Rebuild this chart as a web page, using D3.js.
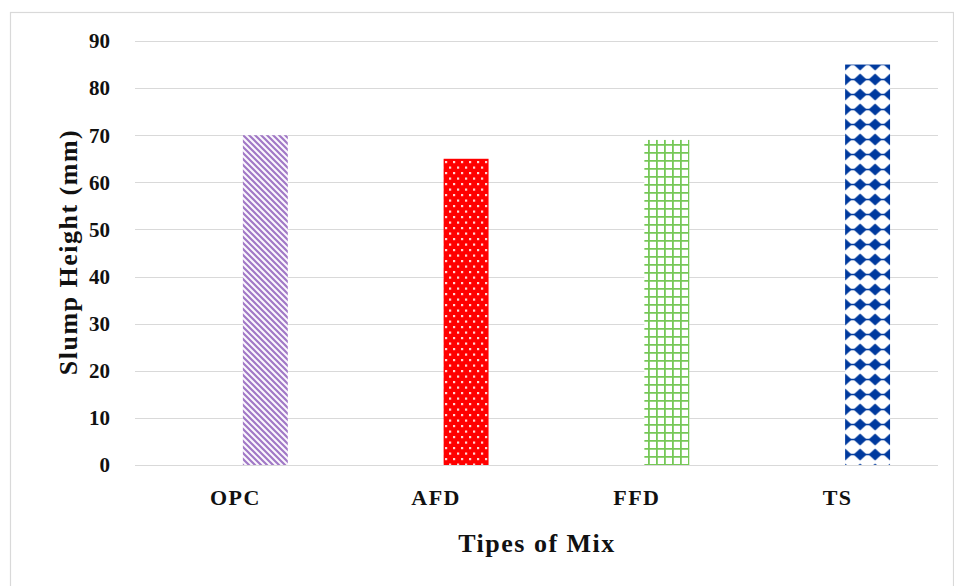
<!DOCTYPE html>
<html>
<head>
<meta charset="utf-8">
<script src="https://cdn.jsdelivr.net/npm/d3@7"></script>
<style>
  html, body { margin: 0; padding: 0; background: #fff; }
  svg { display: block; }
  text { font-family: "Liberation Serif", "DejaVu Serif", serif; font-weight: bold; fill: #111; }
</style>
</head>
<body>
<script>
// Slump test results per mix type
const categories = ["OPC", "AFD", "FFD", "TS"];
const slumpValues = [70, 65, 69, 85];
const yTicks = [0, 10, 20, 30, 40, 50, 60, 70, 80, 90];
// clustered layout: an empty slot sits before the slump bar in each group
const subSeries = ["blank", "slump"];

const W = 954, H = 586;
const svg = d3.select("body").append("svg").attr("width", W).attr("height", H);

// frame around the chart
svg.append("rect").attr("x", 10.5).attr("y", 12.5).attr("width", 943).attr("height", 600)
  .attr("fill", "none").attr("stroke", "#d9d9d9").attr("stroke-width", 1.2);

const x = d3.scaleBand().domain(categories).range([135, 938]);
const xSub = d3.scaleBand().domain(subSeries).range([0, x.bandwidth()])
  .paddingInner(0.25).paddingOuter(0.8);
const y = d3.scaleLinear().domain([0, 90]).range([465, 41]);

const barX = c => x(c) + xSub("slump");
const barW = xSub.bandwidth();

const defs = svg.append("defs");

// OPC: purple diagonal hatching
const p1 = defs.append("pattern").attr("id", "pOPC").attr("patternUnits", "userSpaceOnUse")
  .attr("width", 6).attr("height", 6);
p1.append("rect").attr("width", 6).attr("height", 6).attr("fill", "#fbf8fd");
p1.append("path").attr("d", "M-1,-1 L7,7 M-4,2 L1,7 M5,-1 L8,2")
  .attr("stroke", "#a178c6").attr("stroke-width", 2.2);

// AFD: red with pale dots in offset rows
const p2 = defs.append("pattern").attr("id", "pAFD").attr("patternUnits", "userSpaceOnUse")
  .attr("width", 8).attr("height", 11);
p2.append("rect").attr("width", 8).attr("height", 11).attr("fill", "#ff0000");
p2.append("rect").attr("x", 1).attr("y", 1.5).attr("width", 2.2).attr("height", 2.2).attr("fill", "#ffd6d6");
p2.append("rect").attr("x", 5).attr("y", 7).attr("width", 2.2).attr("height", 2.2).attr("fill", "#ffd6d6");

// FFD: green grid
const p3 = defs.append("pattern").attr("id", "pFFD").attr("patternUnits", "userSpaceOnUse")
  .attr("width", 8).attr("height", 8);
p3.append("rect").attr("width", 8).attr("height", 8).attr("fill", "#fff");
p3.append("path").attr("d", "M0,0.9 H8 M0.9,0 V8").attr("stroke", "#76c857").attr("stroke-width", 1.8);

// TS: blue diamonds, aligned so half-diamonds sit on the bar edges
const tsTop = y(slumpValues[3]);
const p4 = defs.append("pattern").attr("id", "pTS").attr("patternUnits", "userSpaceOnUse")
  .attr("width", 15).attr("height", 15)
  .attr("x", barX("TS") - 7.5).attr("y", tsTop - 7.5);
p4.append("rect").attr("width", 15).attr("height", 15).attr("fill", "#fff");
p4.append("path").attr("d", "M7.5,1.5 L14,7.5 L7.5,13.5 L1,7.5 Z").attr("fill", "#003a9e");
p4.append("path").attr("d", "M0,7.5 H15").attr("stroke", "#003a9e").attr("stroke-width", 1.5);

const patternIds = ["pOPC", "pAFD", "pFFD", "pTS"];

// horizontal gridlines
svg.append("g").selectAll("line").data(yTicks).join("line")
  .attr("x1", 135).attr("x2", 938)
  .attr("y1", d => Math.round(y(d)) + 0.5).attr("y2", d => Math.round(y(d)) + 0.5)
  .attr("stroke", "#d9d9d9").attr("stroke-width", 1);

// y tick labels
svg.append("g").selectAll("text").data(yTicks).join("text")
  .attr("x", 110).attr("y", d => y(d)).attr("dy", "0.35em")
  .attr("text-anchor", "end").attr("font-size", 21).text(d => d);

// bars
svg.append("g").selectAll("rect").data(categories).join("rect")
  .attr("x", d => barX(d)).attr("width", barW)
  .attr("y", (d, i) => y(slumpValues[i]))
  .attr("height", (d, i) => y(0) - y(slumpValues[i]))
  .attr("fill", (d, i) => `url(#${patternIds[i]})`);

// category labels
svg.append("g").selectAll("text").data(categories).join("text")
  .attr("x", d => x(d) + x.bandwidth() / 2).attr("y", 505)
  .attr("text-anchor", "middle").attr("font-size", 22).attr("letter-spacing", 1.5).text(d => d);

// axis titles
svg.append("text").attr("x", 537).attr("y", 552).attr("text-anchor", "middle")
  .attr("font-size", 26).attr("letter-spacing", 1.5).text("Tipes of Mix");
svg.append("text").attr("transform", "translate(77,252) rotate(-90)")
  .attr("text-anchor", "middle").attr("font-size", 26).attr("letter-spacing", 1.5).text("Slump Height (mm)");
</script>
</body>
</html>
